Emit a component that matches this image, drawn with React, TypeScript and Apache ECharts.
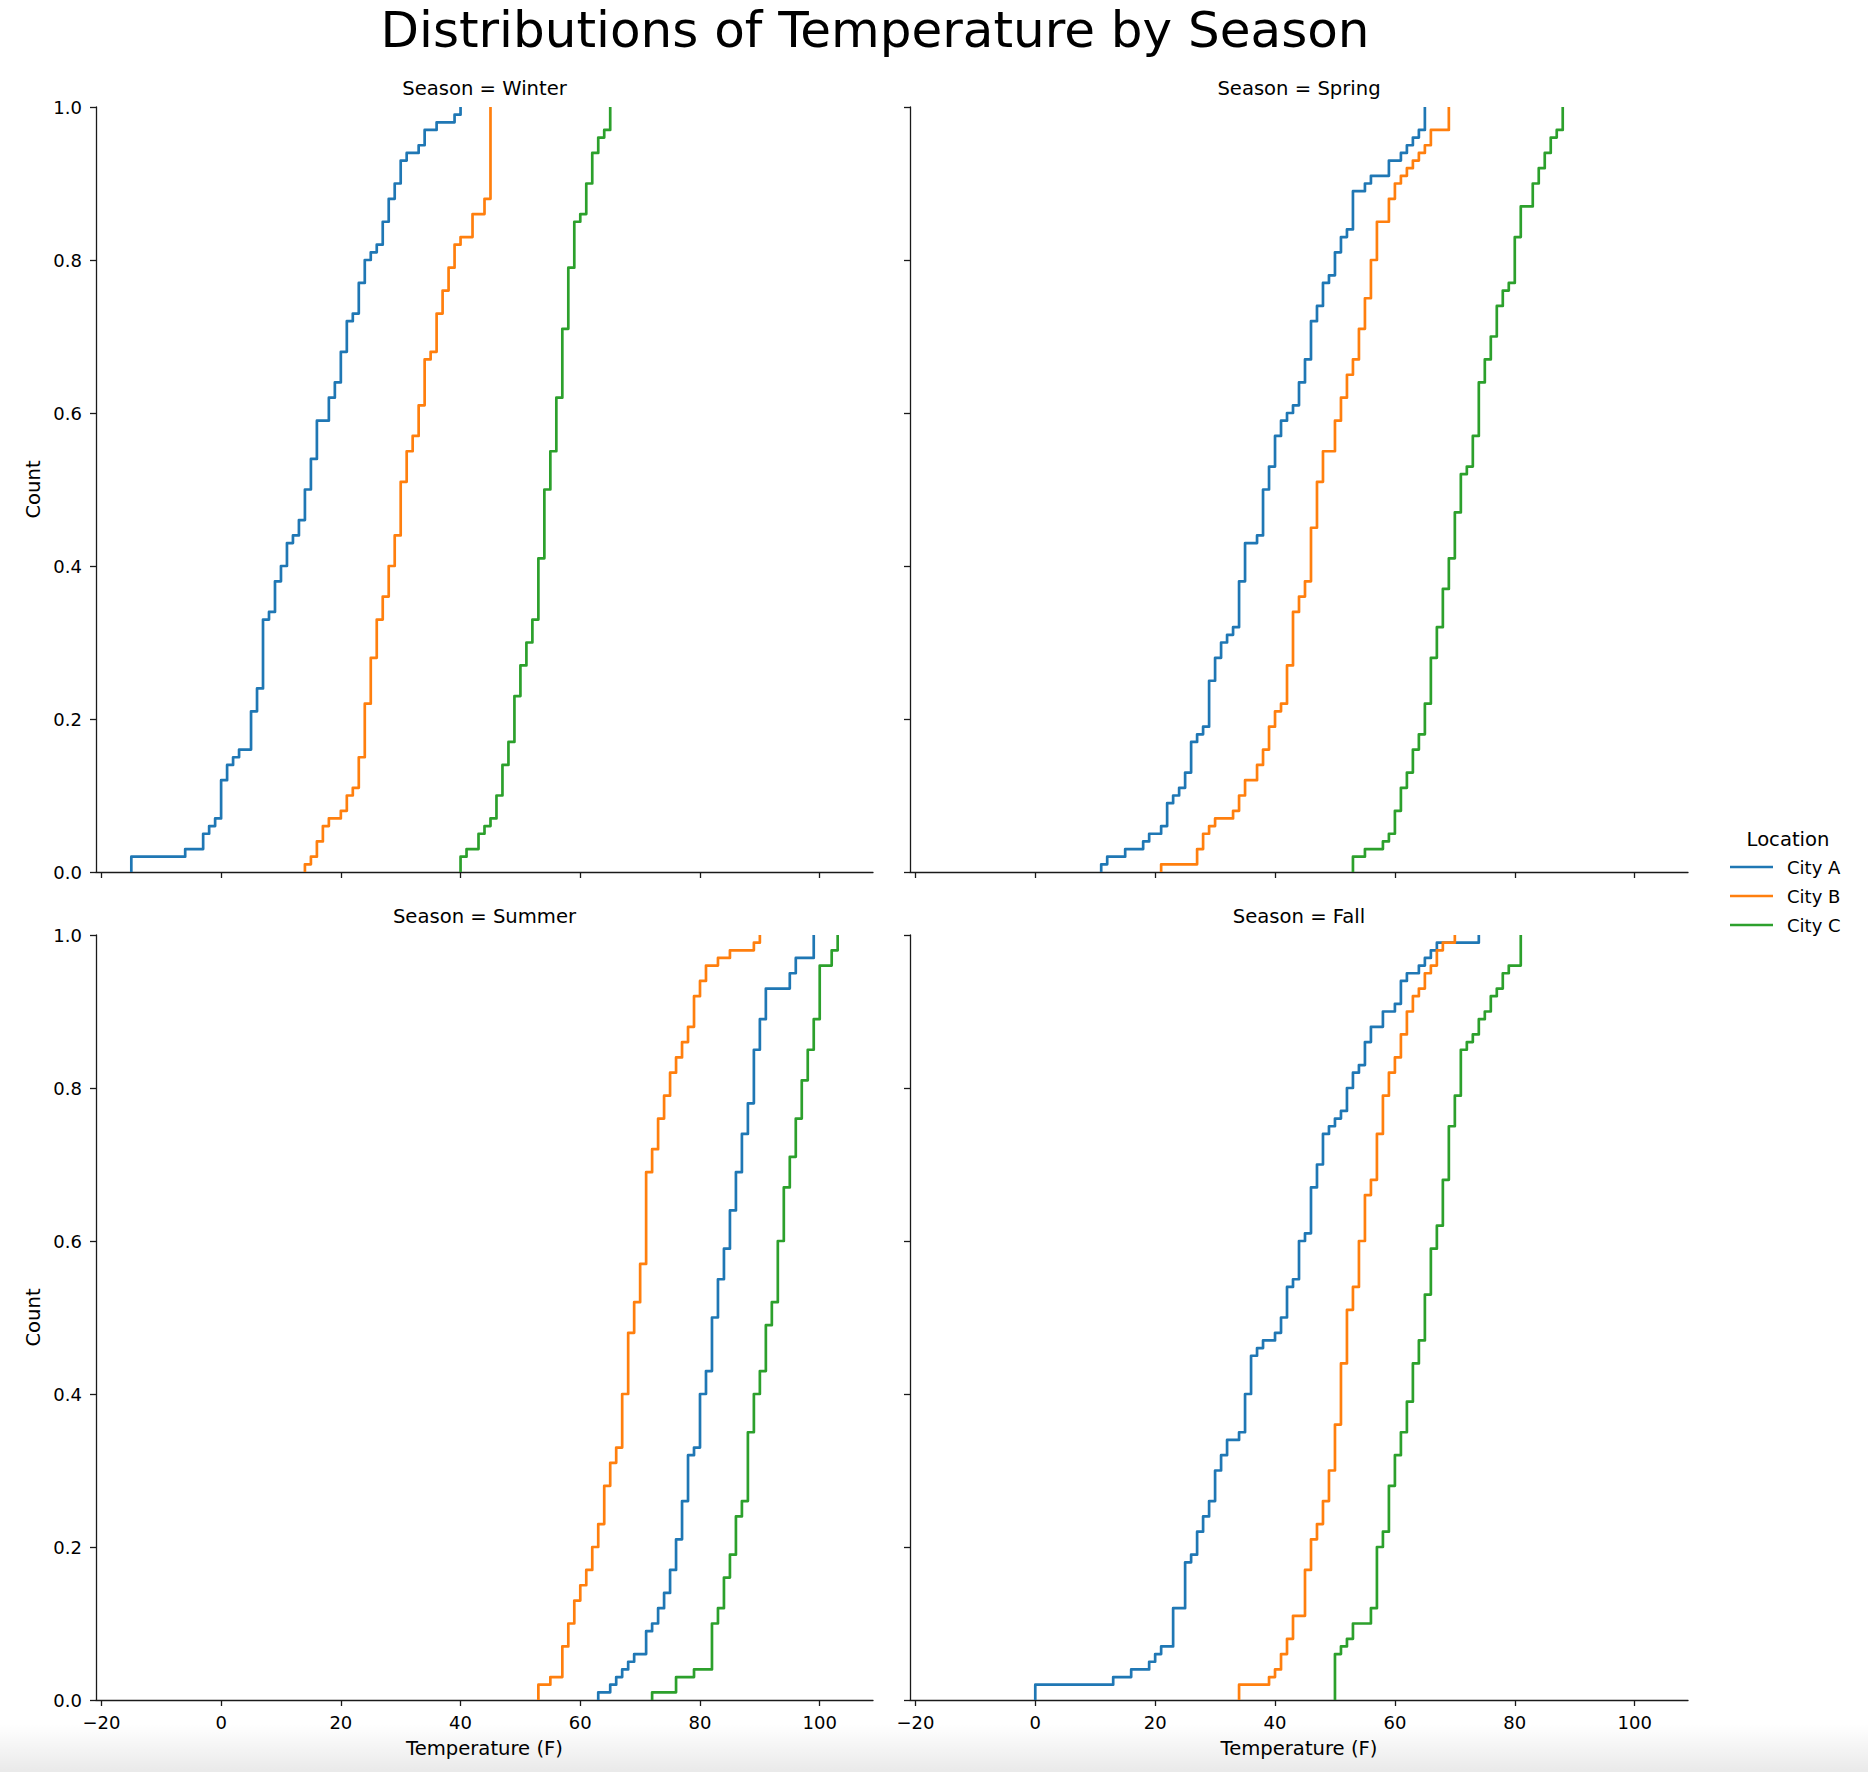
import React, { useEffect, useRef } from 'react';
import * as echarts from 'echarts';

// ---------- data ----------
const seasons = ['Winter', 'Spring', 'Summer', 'Fall'];
const cities = ['City A', 'City B', 'City C'];
const cityColors = ['#1f77b4', '#ff7f0e', '#2ca02c'];
const xTickValues = [-20, 0, 20, 40, 60, 80, 100];
const xRange = [-20.9, 108.9];
const yRange = [0, 1];

const winterATemps = [-15, -6, -3, -2, -1, 0, 1, 2, 3, 5, 6, 7, 8, 9, 10, 11, 12, 13, 14, 15, 16, 18, 19, 20, 21, 22, 23, 24, 25, 26, 27, 28, 29, 30, 31, 33, 34, 36, 39, 40];
const winterACum = [0.02, 0.03, 0.05, 0.06, 0.07, 0.12, 0.14, 0.15, 0.16, 0.21, 0.24, 0.33, 0.34, 0.38, 0.40, 0.43, 0.44, 0.46, 0.50, 0.54, 0.59, 0.62, 0.64, 0.68, 0.72, 0.73, 0.77, 0.80, 0.81, 0.82, 0.85, 0.88, 0.90, 0.93, 0.94, 0.95, 0.97, 0.98, 0.99, 1.00];
const winterBTemps = [14, 15, 16, 17, 18, 20, 21, 22, 23, 24, 25, 26, 27, 28, 29, 30, 31, 32, 33, 34, 35, 36, 37, 38, 39, 40, 42, 44, 45];
const winterBCum = [0.01, 0.02, 0.04, 0.06, 0.07, 0.08, 0.10, 0.11, 0.15, 0.22, 0.28, 0.33, 0.36, 0.40, 0.44, 0.51, 0.55, 0.57, 0.61, 0.67, 0.68, 0.73, 0.76, 0.79, 0.82, 0.83, 0.86, 0.88, 1.00];
const winterCTemps = [40, 41, 43, 44, 45, 46, 47, 48, 49, 50, 51, 52, 53, 54, 55, 56, 57, 58, 59, 60, 61, 62, 63, 64, 65];
const winterCCum = [0.02, 0.03, 0.05, 0.06, 0.07, 0.10, 0.14, 0.17, 0.23, 0.27, 0.30, 0.33, 0.41, 0.50, 0.55, 0.62, 0.71, 0.79, 0.85, 0.86, 0.90, 0.94, 0.96, 0.97, 1.00];

const springATemps = [11, 12, 15, 18, 19, 21, 22, 23, 24, 25, 26, 27, 28, 29, 30, 31, 32, 33, 34, 35, 37, 38, 39, 40, 41, 42, 43, 44, 45, 46, 47, 48, 49, 50, 51, 52, 53, 55, 56, 59, 61, 62, 63, 64, 65];
const springACum = [0.01, 0.02, 0.03, 0.04, 0.05, 0.06, 0.09, 0.10, 0.11, 0.13, 0.17, 0.18, 0.19, 0.25, 0.28, 0.30, 0.31, 0.32, 0.38, 0.43, 0.44, 0.50, 0.53, 0.57, 0.59, 0.60, 0.61, 0.64, 0.67, 0.72, 0.74, 0.77, 0.78, 0.81, 0.83, 0.84, 0.89, 0.90, 0.91, 0.93, 0.94, 0.95, 0.96, 0.97, 1.00];
const springBTemps = [21, 27, 28, 29, 30, 33, 34, 35, 37, 38, 39, 40, 41, 42, 43, 44, 45, 46, 47, 48, 50, 51, 52, 53, 54, 55, 56, 57, 59, 60, 61, 62, 63, 64, 65, 66, 69];
const springBCum = [0.01, 0.03, 0.05, 0.06, 0.07, 0.08, 0.10, 0.12, 0.14, 0.16, 0.19, 0.21, 0.22, 0.27, 0.34, 0.36, 0.38, 0.45, 0.51, 0.55, 0.59, 0.62, 0.65, 0.67, 0.71, 0.75, 0.80, 0.85, 0.88, 0.90, 0.91, 0.92, 0.93, 0.94, 0.95, 0.97, 1.00];
const springCTemps = [53, 55, 58, 59, 60, 61, 62, 63, 64, 65, 66, 67, 68, 69, 70, 71, 72, 73, 74, 75, 76, 77, 78, 79, 80, 81, 83, 84, 85, 86, 87, 88];
const springCCum = [0.02, 0.03, 0.04, 0.05, 0.08, 0.11, 0.13, 0.16, 0.18, 0.22, 0.28, 0.32, 0.37, 0.41, 0.47, 0.52, 0.53, 0.57, 0.64, 0.67, 0.70, 0.74, 0.76, 0.77, 0.83, 0.87, 0.90, 0.92, 0.94, 0.96, 0.97, 1.00];

const summerATemps = [63, 65, 66, 67, 68, 69, 71, 72, 73, 74, 75, 76, 77, 78, 79, 80, 81, 82, 83, 84, 85, 86, 87, 88, 89, 90, 91, 95, 96, 99];
const summerACum = [0.01, 0.02, 0.03, 0.04, 0.05, 0.06, 0.09, 0.10, 0.12, 0.14, 0.17, 0.21, 0.26, 0.32, 0.33, 0.40, 0.43, 0.50, 0.55, 0.59, 0.64, 0.69, 0.74, 0.78, 0.85, 0.89, 0.93, 0.95, 0.97, 1.00];
const summerBTemps = [53, 55, 57, 58, 59, 60, 61, 62, 63, 64, 65, 66, 67, 68, 69, 70, 71, 72, 73, 74, 75, 76, 77, 78, 79, 80, 81, 83, 85, 89, 90];
const summerBCum = [0.02, 0.03, 0.07, 0.10, 0.13, 0.15, 0.17, 0.20, 0.23, 0.28, 0.31, 0.33, 0.40, 0.48, 0.52, 0.57, 0.69, 0.72, 0.76, 0.79, 0.82, 0.84, 0.86, 0.88, 0.92, 0.94, 0.96, 0.97, 0.98, 0.99, 1.00];
const summerCTemps = [72, 76, 79, 82, 83, 84, 85, 86, 87, 88, 89, 90, 91, 92, 93, 94, 95, 96, 97, 98, 99, 100, 102, 103];
const summerCCum = [0.01, 0.03, 0.04, 0.10, 0.12, 0.16, 0.19, 0.24, 0.26, 0.35, 0.40, 0.43, 0.49, 0.52, 0.60, 0.67, 0.71, 0.76, 0.81, 0.85, 0.89, 0.96, 0.98, 1.00];

const fallATemps = [0, 13, 16, 19, 20, 21, 23, 25, 26, 27, 28, 29, 30, 31, 32, 34, 35, 36, 37, 38, 40, 41, 42, 43, 44, 45, 46, 47, 48, 49, 50, 51, 52, 53, 54, 55, 56, 58, 60, 61, 62, 64, 65, 66, 67, 74];
const fallACum = [0.02, 0.03, 0.04, 0.05, 0.06, 0.07, 0.12, 0.18, 0.19, 0.22, 0.24, 0.26, 0.30, 0.32, 0.34, 0.35, 0.40, 0.45, 0.46, 0.47, 0.48, 0.50, 0.54, 0.55, 0.60, 0.61, 0.67, 0.70, 0.74, 0.75, 0.76, 0.77, 0.80, 0.82, 0.83, 0.86, 0.88, 0.90, 0.91, 0.94, 0.95, 0.96, 0.97, 0.98, 0.99, 1.00];
const fallBTemps = [34, 39, 40, 41, 42, 43, 45, 46, 47, 48, 49, 50, 51, 52, 53, 54, 55, 56, 57, 58, 59, 60, 61, 62, 63, 64, 65, 66, 67, 68, 70];
const fallBCum = [0.02, 0.03, 0.04, 0.06, 0.08, 0.11, 0.17, 0.21, 0.23, 0.26, 0.30, 0.36, 0.44, 0.51, 0.54, 0.60, 0.66, 0.68, 0.74, 0.79, 0.82, 0.84, 0.87, 0.90, 0.92, 0.93, 0.95, 0.96, 0.98, 0.99, 1.00];
const fallCTemps = [50, 51, 52, 53, 56, 57, 58, 59, 60, 61, 62, 63, 64, 65, 66, 67, 68, 69, 70, 71, 72, 73, 74, 75, 76, 77, 78, 79, 81];
const fallCCum = [0.06, 0.07, 0.08, 0.10, 0.12, 0.20, 0.22, 0.28, 0.32, 0.35, 0.39, 0.44, 0.47, 0.53, 0.59, 0.62, 0.68, 0.75, 0.79, 0.85, 0.86, 0.87, 0.89, 0.90, 0.92, 0.93, 0.95, 0.96, 1.00];

const seasonSeries = [
  [[winterATemps, winterACum], [winterBTemps, winterBCum], [winterCTemps, winterCCum]],
  [[springATemps, springACum], [springBTemps, springBCum], [springCTemps, springCCum]],
  [[summerATemps, summerACum], [summerBTemps, summerBCum], [summerCTemps, summerCCum]],
  [[fallATemps, fallACum], [fallBTemps, fallBCum], [fallCTemps, fallCCum]],
];

// ---------- layout ----------
const W = 1868;
const H = 1772;
const FONT = '"DejaVu Sans", sans-serif';
const gridBoxes = [
  { left: 96, top: 107, width: 777, height: 765 },
  { left: 910, top: 107, width: 778, height: 765 },
  { left: 96, top: 935, width: 777, height: 765 },
  { left: 910, top: 935, width: 778, height: 765 },
];
const spineColor = '#1a1a1a';

const fmtX = (v: number) => (v < 0 ? '\u2212' + Math.abs(v) : String(v));

function buildOption() {
  const grid = gridBoxes.map((g) => ({ ...g, containLabel: false, outerBoundsMode: 'none' }));
  const xAxis = gridBoxes.map((_, i) => {
    const bottomRow = i >= 2;
    return {
      type: 'value',
      gridIndex: i,
      min: xRange[0],
      max: xRange[1],
      name: bottomRow ? 'Temperature (F)' : '',
      nameLocation: 'middle',
      nameGap: 38,
      nameTextStyle: { fontSize: 19.6, color: '#000', fontFamily: FONT },
      splitLine: { show: false },
      axisLine: { show: true, onZero: false, lineStyle: { color: spineColor, width: 1.3 } },
      axisTick: { show: true, inside: false, length: 6, customValues: xTickValues, lineStyle: { color: spineColor, width: 1.3 } },
      axisLabel: {
        show: bottomRow,
        customValues: xTickValues,
        formatter: fmtX,
        margin: 13,
        fontSize: 18,
        color: '#000',
        fontFamily: FONT,
      },
    };
  });
  const yAxis = gridBoxes.map((_, i) => {
    const leftCol = i % 2 === 0;
    return {
      type: 'value',
      gridIndex: i,
      min: yRange[0],
      max: yRange[1],
      interval: 0.2,
      name: leftCol ? 'Count' : '',
      nameLocation: 'middle',
      nameGap: 53,
      nameTextStyle: { fontSize: 19.6, color: '#000', fontFamily: FONT },
      splitLine: { show: false },
      axisLine: { show: true, onZero: false, lineStyle: { color: spineColor, width: 1.3 } },
      axisTick: { show: true, inside: false, length: 6, lineStyle: { color: spineColor, width: 1.3 } },
      axisLabel: {
        show: leftCol,
        formatter: (v: number) => v.toFixed(1),
        margin: 14,
        fontSize: 18,
        color: '#000',
        fontFamily: FONT,
      },
    };
  });

  const series: any[] = [];
  seasonSeries.forEach((cityList, s) => {
    cityList.forEach(([temps, cum], c) => {
      const data: number[][] = [[temps[0], 0]];
      temps.forEach((t, k) => data.push([t, cum[k]]));
      series.push({
        type: 'line',
        name: cities[c],
        xAxisIndex: s,
        yAxisIndex: s,
        step: 'end',
        symbol: 'none',
        showSymbol: false,
        data,
        color: cityColors[c],
        lineStyle: { color: cityColors[c], width: 2.7, join: 'round' },
        emphasis: { disabled: true },
        silent: true,
        z: 3,
      });
    });
  });

  const graphic: any[] = [
    {
      type: 'rect',
      silent: true,
      z: -10,
      shape: { x: 0, y: 1724, width: W, height: H - 1724 },
      style: {
        fill: new echarts.graphic.LinearGradient(0, 0, 0, 1, [
          { offset: 0, color: 'rgba(0,0,0,0)' },
          { offset: 1, color: 'rgba(0,0,0,0.085)' },
        ]),
      },
    },
    {
      type: 'text',
      x: 875,
      y: 30,
      style: { text: 'Distributions of Temperature by Season', fontSize: 50, lineHeight: 46, fill: '#000', fontFamily: FONT, align: 'center', verticalAlign: 'middle' },
    },
    {
      type: 'text',
      x: 1788,
      y: 839,
      style: { text: 'Location', fontSize: 19.6, fill: '#000', fontFamily: FONT, align: 'center', verticalAlign: 'middle' },
    },
  ];
  gridBoxes.forEach((g, i) => {
    graphic.push({
      type: 'text',
      x: g.left + g.width / 2,
      y: g.top - 19,
      style: { text: 'Season = ' + seasons[i], fontSize: 19.6, fill: '#000', fontFamily: FONT, align: 'center', verticalAlign: 'middle' },
    });
  });

  return {
    animation: false,
    backgroundColor: '#ffffff',
    textStyle: { fontFamily: FONT },
    grid,
    xAxis,
    yAxis,
    series,
    legend: {
      orient: 'vertical',
      left: 1730,
      top: 858,
      padding: 0,
      itemGap: 11,
      itemWidth: 43,
      itemHeight: 2.5,
      icon: 'rect',
      selectedMode: false,
      data: cities.map((n, i) => ({ name: n, itemStyle: { color: cityColors[i] } })),
      textStyle: { fontSize: 18, color: '#000', fontFamily: FONT, padding: [0, 0, 0, 9] },
    },
    graphic,
  };
}

export default function App() {
  const ref = useRef<HTMLDivElement>(null);
  useEffect(() => {
    document.body.style.margin = '0';
    document.body.style.overflow = 'hidden';
    if (!ref.current) return;
    const chart = echarts.init(ref.current, undefined, { renderer: 'svg', width: W, height: H });
    chart.setOption(buildOption() as any);
    return () => chart.dispose();
  }, []);
  return <div ref={ref} style={{ width: W, height: H, background: '#fff' }} />;
}
